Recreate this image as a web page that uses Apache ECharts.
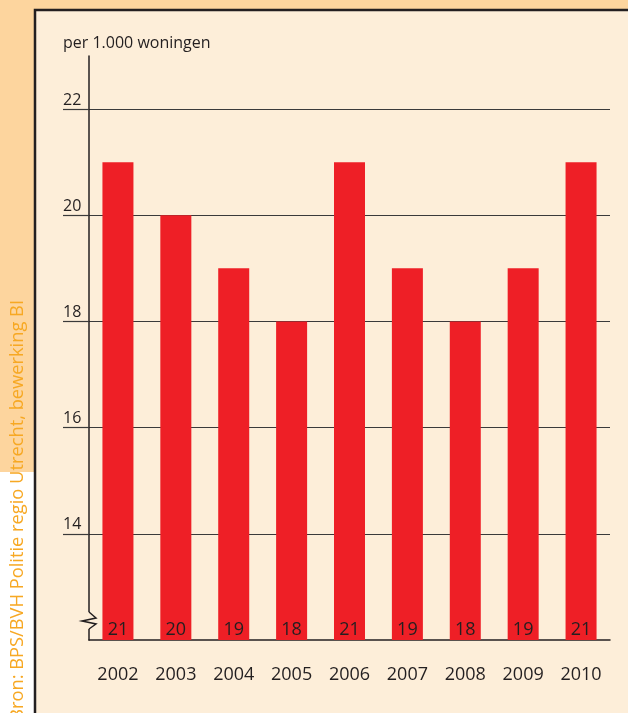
<!DOCTYPE html>
<html lang="nl">
<head>
<meta charset="UTF-8">
<title>Woninginbraken per 1.000 woningen</title>
<script src="https://cdn.jsdelivr.net/npm/echarts@6/dist/echarts.min.js"></script>
<style>
  html, body { margin: 0; padding: 0; background: #fdd59e; }
  #chart { width: 628px; height: 713px; }
</style>
</head>
<body>
<div id="chart"></div>
<script>
// gegevens
var jaren = ['2002', '2003', '2004', '2005', '2006', '2007', '2008', '2009', '2010'];
var waarden = [21, 20, 19, 18, 21, 19, 18, 19, 21];
var yTicks = [14, 16, 18, 20, 22];

var tekst = '#231f20';
var rood = '#ee1f26';
var paneel = '#fdeed9';
var font = '"Open Sans", "Noto Sans", sans-serif';

var myChart = echarts.init(document.getElementById('chart'));

var option = {
    backgroundColor: '#fdd59e',
    animation: false,
    textStyle: { fontFamily: font },
    graphic: [
        // achtergrond
        { type: 'rect', z: -10, shape: { x: 0, y: 472, width: 34, height: 260 }, style: { fill: '#ffffff' } },
        { type: 'rect', z: -10, shape: { x: 35, y: 10, width: 640, height: 760 },
          style: { fill: paneel, stroke: tekst, lineWidth: 2.5 } },
        // bron
        { type: 'text', x: 18, y: 300, rotation: Math.PI / 2,
          style: { text: 'Bron: BPS/BVH Politie regio Utrecht, bewerking BI', fill: '#f7a823',
                   font: '18.3px ' + font, align: 'right', verticalAlign: 'middle' } },
        // eenheid
        { type: 'text', left: 63, top: 35,
          style: { text: 'per 1.000 woningen', fill: tekst, font: '16px ' + font } },
        // asonderbreking
        { type: 'rect', z: 50, shape: { x: 86, y: 612, width: 6, height: 17 }, style: { fill: paneel } },
        { type: 'polyline', z: 51,
          shape: { points: [[89, 612], [96, 618], [82, 621], [96, 624], [89, 629]] },
          style: { stroke: tekst, lineWidth: 1.5, fill: null } }
    ],
    grid: { left: 89, right: 18, top: 56, bottom: 73 },
    xAxis: {
        type: 'category',
        data: jaren,
        axisLine: { lineStyle: { color: tekst, width: 1.5 } },
        axisTick: { show: false },
        axisLabel: { color: tekst, fontSize: 18, margin: 26, fontFamily: font }
    },
    yAxis: {
        type: 'value',
        min: 12,
        max: 23,
        interval: 2,
        axisLine: { show: true, lineStyle: { color: tekst, width: 1.5 } },
        axisTick: { show: true, length: 26, customValues: yTicks, lineStyle: { color: '#3a3a3a', width: 1.2 } },
        splitLine: { show: true, showMinLine: true, showMaxLine: true, lineStyle: { color: '#3a3a3a', width: 1.2 } },
        axisLabel: { customValues: yTicks, color: tekst, fontSize: 16, fontFamily: font,
                     align: 'left', verticalAlign: 'bottom', margin: 26, padding: [0, 0, 1, 0] }
    },
    series: [{
        type: 'bar',
        data: waarden,
        barWidth: 31,
        itemStyle: { color: rood },
        label: { show: true, position: 'insideBottom', distance: 1, color: tekst, fontSize: 18, fontFamily: font }
    }]
};
myChart.setOption(option);
</script>
</body>
</html>
